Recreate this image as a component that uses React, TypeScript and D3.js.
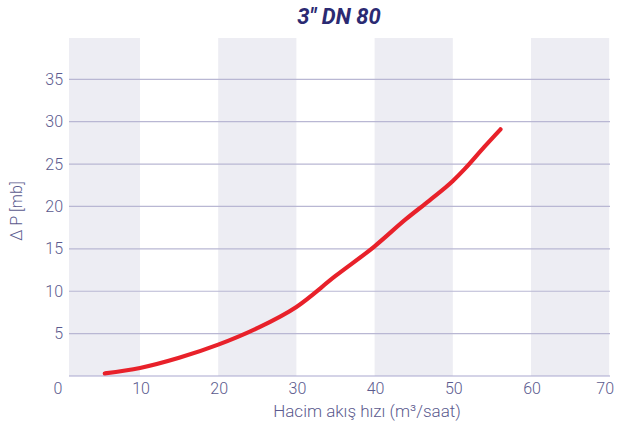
import React from "react";
import * as d3 from "d3";

const flowValues = [5.5, 10, 15, 20, 25, 30, 35, 40, 44, 47, 50, 51.5, 54, 56.1];
const pressureValues = [0.3, 0.95, 2.15, 3.7, 5.65, 8.15, 11.8, 15.3, 18.5, 20.7, 23.0, 24.4, 27.0, 29.1];
const xTicks = [0, 10, 20, 30, 40, 50, 60, 70];
const yTicks = [0, 5, 10, 15, 20, 25, 30, 35];
const bandStarts = [0, 20, 40, 60];
const title = "3\" DN 80";
const xTitle = "Hacim akış hızı (m³/saat)";
const yTitle = "Δ P [mb]";

const W = 620;
const H = 430;
const plotLeft = 69;
const plotRight = 610;
const plotTop = 38;
const plotBottom = 376;

export default function App() {
  const x = d3.scaleLinear().domain([0, 70]).range([61.8, 609.2]);
  const y = d3.scaleLinear().domain([0, 40]).range([376, 36.9]);
  const pts = flowValues.map((f, i) => [f, pressureValues[i]] as [number, number]);
  const line = d3
    .line<[number, number]>()
    .x((d) => x(d[0]))
    .y((d) => y(d[1]))
    .curve(d3.curveMonotoneX);
  const font = "Roboto, 'Noto Sans', sans-serif";
  const labelColor = "#5b5a8e";
  return (
    <svg width={W} height={H} style={{ position: "absolute", left: 0, top: 0 }}>
      <rect x={0} y={0} width={W} height={H} fill="#ffffff" />
      {bandStarts.map((b) => {
        const x0 = Math.max(plotLeft, x(b));
        const x1 = Math.min(plotRight, x(b + 10));
        return <rect key={b} x={x0} y={plotTop} width={x1 - x0} height={plotBottom - plotTop} fill="#ededf3" />;
      })}
      {yTicks.map((t) => (
        <line
          key={t}
          x1={plotLeft}
          x2={plotRight}
          y1={y(t)}
          y2={y(t)}
          stroke={t === 0 ? "#a9a7cf" : "#b9b7d3"}
          strokeWidth={1.2}
        />
      ))}
      {yTicks.filter((t) => t > 0).map((t) => (
        <text
          key={t}
          x={63}
          y={y(t)}
          dy="0.35em"
          textAnchor="end"
          fontFamily={font}
          fontSize={16}
          fontWeight={300}
          fill={labelColor}
        >
          {t}
        </text>
      ))}
      <text x={58} y={394} textAnchor="middle" fontFamily={font} fontSize={16} fontWeight={300} fill={labelColor}>
        0
      </text>
      {xTicks.filter((t) => t > 0).map((t) => (
        <text
          key={t}
          x={t === 70 ? x(t) - 4 : x(t) + 1}
          y={394}
          textAnchor="middle"
          fontFamily={font}
          fontSize={16}
          fontWeight={300}
          fill={labelColor}
        >
          {t}
        </text>
      ))}
      <path d={line(pts) || ""} fill="none" stroke="#e8212a" strokeWidth={4.2} strokeLinecap="round" strokeLinejoin="round" />
      <text x={339} y={24} textAnchor="middle" fontFamily={font} fontSize={22} fontWeight={700} fontStyle="italic" fill="#2b2a72">
        {title}
      </text>
      <text x={367} y={417} textAnchor="middle" fontFamily={font} fontSize={17} fontWeight={300} fill={labelColor}>
        {xTitle}
      </text>
      <text
        transform="translate(22,211) rotate(-90)"
        textAnchor="middle"
        fontFamily={font}
        fontSize={16}
        fontWeight={300}
        fill={labelColor}
      >
        {yTitle}
      </text>
    </svg>
  );
}
